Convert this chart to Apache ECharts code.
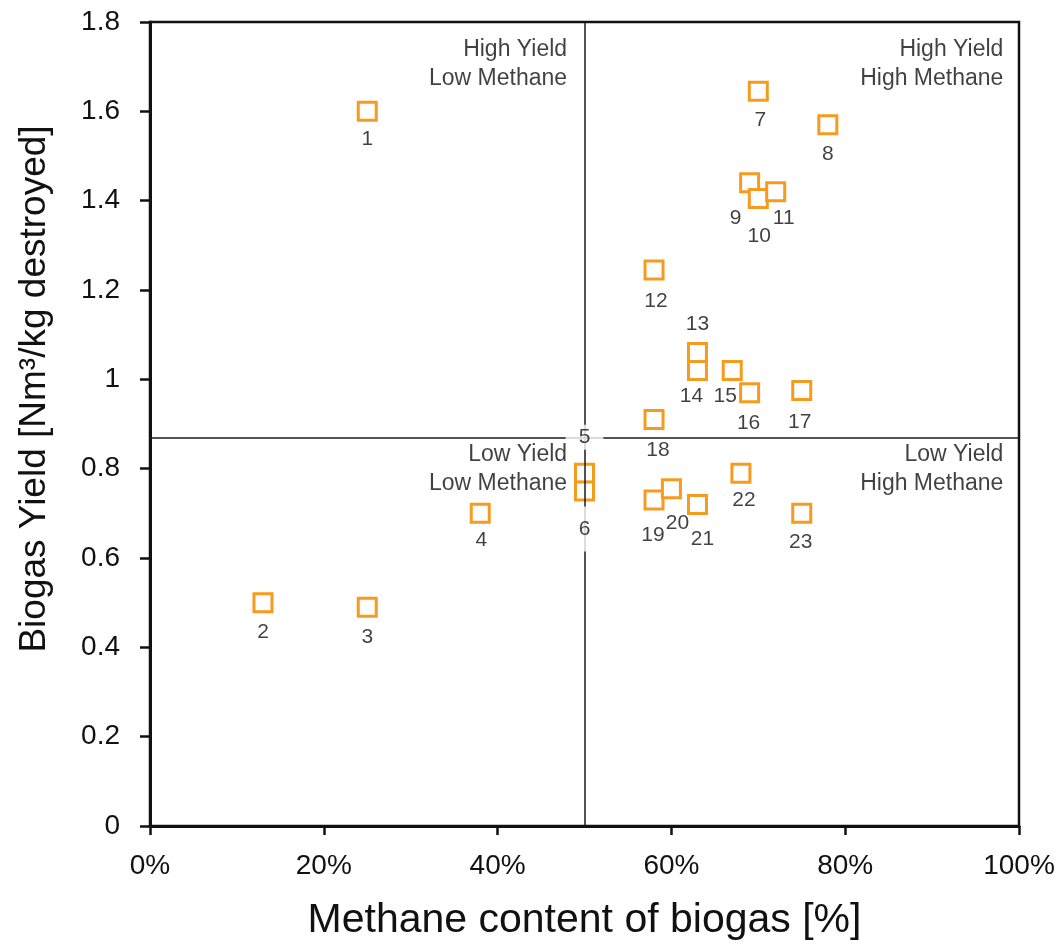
<!DOCTYPE html>
<html>
<head>
<meta charset="utf-8">
<script src="https://cdn.jsdelivr.net/npm/echarts@6/dist/echarts.min.js"></script>
<style>
html,body{margin:0;padding:0;background:#fff;}
#chart{width:1060px;height:948px;}
</style>
</head>
<body>
<div id="chart"></div>
<script>
// ---- data ----
var pointIds = ['1','2','3','4','5','6','7','8','9','10','11','12','13','14','15','16','17','18','19','20','21','22','23'];
var methanePct = [25, 13, 25, 38, 50, 50, 70, 78, 69, 70, 72, 58, 63, 63, 67, 69, 75, 58, 58, 60, 63, 68, 75];
var biogasYield = [1.60, 0.50, 0.49, 0.70, 0.79, 0.75, 1.645, 1.57, 1.44, 1.405, 1.42, 1.245, 1.06, 1.02, 1.02, 0.97, 0.975, 0.91, 0.73, 0.755, 0.72, 0.79, 0.70];
var methaneSplit = 50;
var yieldSplit = 0.87;
var xTicks = [0, 20, 40, 60, 80, 100];
var yTicks = [0, 0.2, 0.4, 0.6, 0.8, 1, 1.2, 1.4, 1.6, 1.8];
var quadrantTexts = ['High Yield\nLow Methane', 'High Yield\nHigh Methane', 'Low Yield\nLow Methane', 'Low Yield\nHigh Methane'];
var quadrantAnchorX = [48, 98.2, 48, 98.2];
var quadrantAnchorY = [1.706, 1.706, 0.799, 0.799];

// label placement (pixel offsets from point centre)
var labelOffsets = [
  [0,28],[0,30],[0,30],[1,27],[0,-36],[0,38],[2,29],[0,29],[-14,35],[1,38],[8,26],[2,31],
  [0,-28],[-6,26],[-7,26],[-1,30],[-2,32],[4,31],[-1,35],[6,34],[5,35],[3,27],[-1,29]
];

var FONT = "'Liberation Sans', Arial, Helvetica, sans-serif";
var chart = echarts.init(document.getElementById('chart'), null, {renderer: 'canvas'});

var pts = methanePct.map(function (m, i) { return [m, biogasYield[i]]; });
var labelData = pts.map(function (p, i) {
  var lab = {
    show: true,
    position: 'inside',
    offset: labelOffsets[i],
    formatter: pointIds[i],
    fontSize: 21,
    fontFamily: FONT,
    color: '#111'
  };
  if (pointIds[i] === '5') { lab.backgroundColor = '#fff'; lab.padding = [2, 13, 2, 13]; }
  if (pointIds[i] === '6') { lab.backgroundColor = '#fff'; lab.padding = [12, 2, 12, 2]; }
  return { value: p, label: lab };
});
var quadData = quadrantTexts.map(function (t, i) {
  return { value: [quadrantAnchorX[i], quadrantAnchorY[i]], label: { formatter: t } };
});

function yFmt(v) { return String(parseFloat((+v).toFixed(1))); }

chart.setOption({
  animation: false,
  backgroundColor: '#fff',
  grid: { left: 150, right: 41, top: 22, bottom: 122, show: true, borderColor: '#111', borderWidth: 2.5, backgroundColor: 'transparent' },
  xAxis: {
    type: 'value', min: xTicks[0], max: xTicks[xTicks.length - 1], interval: xTicks[1] - xTicks[0],
    name: 'Methane content of biogas [%]', nameLocation: 'middle', nameGap: 74,
    nameTextStyle: { fontSize: 41, fontFamily: FONT, color: '#111' },
    axisLine: { show: true, onZero: false, lineStyle: { color: '#111', width: 3 } },
    axisTick: { show: true, inside: false, length: 9, lineStyle: { color: '#111', width: 2.5 } },
    axisLabel: { formatter: '{value}%', fontSize: 28, fontFamily: FONT, color: '#111', margin: 26 },
    splitLine: { show: false }
  },
  yAxis: {
    type: 'value', min: yTicks[0], max: yTicks[yTicks.length - 1], interval: 0.2,
    name: 'Biogas Yield [Nm³/kg destroyed]', nameLocation: 'middle', nameGap: 97,
    nameTextStyle: { fontSize: 37, fontFamily: FONT, color: '#111', padding: [0, 0, 0, 70] },
    axisLine: { show: true, onZero: false, lineStyle: { color: '#111', width: 3 } },
    axisTick: { show: true, inside: false, length: 10, lineStyle: { color: '#111', width: 2.5 } },
    axisLabel: { formatter: yFmt, fontSize: 28, fontFamily: FONT, color: '#111', margin: 30 },
    splitLine: { show: false }
  },
  series: [
    {
      type: 'scatter', name: 'points', z: 2,
      data: pts, symbol: 'rect', symbolSize: 18,
      itemStyle: { color: '#fff', borderColor: '#F79B1E', borderWidth: 3, opacity: 1 },
      emphasis: { disabled: true }, silent: true
    },
    {
      type: 'scatter', name: 'splits', z: 3, data: [], silent: true,
      markLine: {
        silent: true, symbol: 'none', animation: false,
        label: { show: false },
        lineStyle: { color: '#1a1a1a', width: 1.5, type: 'solid' },
        emphasis: { disabled: true },
        data: [{ xAxis: methaneSplit }, { yAxis: yieldSplit }]
      }
    },
    {
      type: 'scatter', name: 'labels', zlevel: 1, z: 4, silent: true,
      data: labelData, symbolSize: 0.1,
      itemStyle: { color: 'transparent' },
      emphasis: { disabled: true }
    },
    {
      type: 'scatter', name: 'quadrants', zlevel: 1, z: 4, silent: true,
      data: quadData, symbolSize: 0.1,
      itemStyle: { color: 'transparent' },
      label: { show: true, position: 'inside', align: 'right', verticalAlign: 'middle', fontSize: 23, lineHeight: 29, fontFamily: FONT, color: '#111' },
      emphasis: { disabled: true }
    }
  ]
});
</script>
</body>
</html>
